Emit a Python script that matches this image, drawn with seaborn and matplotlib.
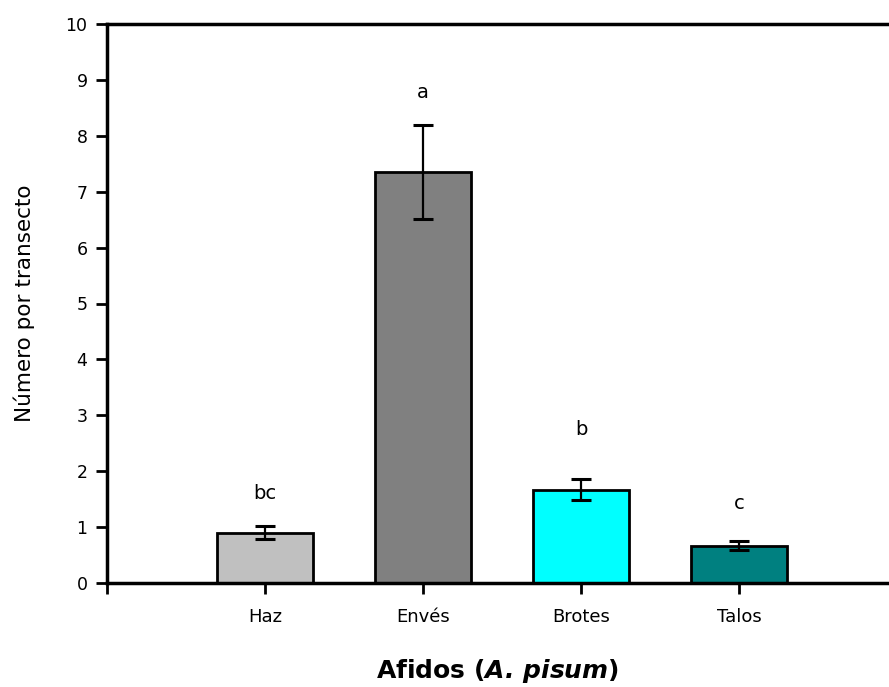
import matplotlib
matplotlib.use("Agg")
import matplotlib.pyplot as plt
import seaborn as sns
import pandas as pd

categories = ["Haz", "Envés", "Brotes", "Talos"]
means = [0.90, 7.35, 1.67, 0.67]
errors = [0.12, 0.84, 0.19, 0.08]
letters = ["bc", "a", "b", "c"]
letter_y = [1.60, 8.77, 2.74, 1.43]
colors = ["#C0C0C0", "#808080", "#00FFFF", "#008080"]

sns.set_style("ticks")
plt.rcParams['font.family'] = ['DejaVu Sans']
plt.rcParams['text.color'] = 'black'
plt.rcParams['axes.labelcolor'] = 'black'
plt.rcParams['xtick.color'] = 'black'
plt.rcParams['ytick.color'] = 'black'

df = pd.DataFrame({"cat": categories, "val": means})

fig = plt.figure(figsize=(8.89, 6.87), dpi=100)
ax = fig.add_axes([107/889, 104/687, 782/889, 559/687])

sns.barplot(data=df, x="cat", y="val", hue="cat", order=categories,
            palette=colors, edgecolor="black", linewidth=2, width=0.61,
            legend=False, errorbar=None, ax=ax, saturation=1)

ax.errorbar(range(len(categories)), means, yerr=errors, fmt="none",
            ecolor="black", elinewidth=1.6, capsize=7.5, capthick=2.2, zorder=5)

for i, (t, y) in enumerate(zip(letters, letter_y)):
    ax.text(i, y, t, ha="center", va="center", fontsize=14, color="black")

ax.set_xlim(-1, 3.95)
ax.set_ylim(0, 10)
ax.set_yticks(range(0, 11))
ax.set_xticks([-1, 0, 1, 2, 3])
ax.set_xticklabels([""] + categories, fontsize=13)
ax.tick_params(axis="y", labelsize=12.5, length=8, width=2, direction="out", pad=6)
ax.tick_params(axis="x", length=8, width=2, direction="out", pad=10)

for s in ["left", "bottom", "top"]:
    ax.spines[s].set_linewidth(2.5)
    ax.spines[s].set_color("black")
ax.spines["right"].set_visible(False)

ax.set_ylabel("Número por transecto", fontsize=15.5, labelpad=22)
ax.set_xlabel(r"Afidos ($\mathbfit{A.\,pisum}$)", fontsize=18,
              fontweight="bold", labelpad=22)

fig.savefig("out.png", dpi=100)
